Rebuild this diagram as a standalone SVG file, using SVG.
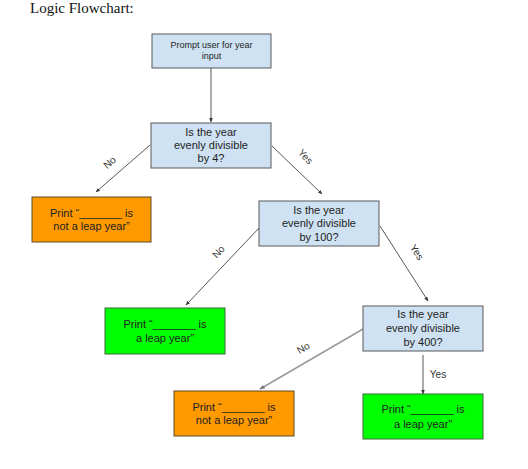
<svg xmlns="http://www.w3.org/2000/svg" width="528" height="469" viewBox="0 0 528 469">
<style>
.t{font-family:"Liberation Sans",Arial,sans-serif;font-size:11px;fill:#222;text-anchor:middle}
.s{font-size:9px}
.lab{font-family:"Liberation Sans",Arial,sans-serif;font-size:10px;fill:#333;text-anchor:middle}
.q{fill:#cfe2f3;stroke:#595959;stroke-width:1}
.o{fill:#ff9900;stroke:#5a4a2a;stroke-width:1}
.g{fill:#00ff00;stroke:#3a6a3a;stroke-width:1}
.c{stroke:#444;stroke-width:0.9;fill:none;marker-end:url(#a)}
.c2{stroke:#999;stroke-width:1.5;fill:none;marker-end:url(#a2)}
</style>
<defs>
<marker id="a" viewBox="0 0 10 10" refX="9" refY="5" markerWidth="5" markerHeight="5" orient="auto" markerUnits="strokeWidth"><path d="M0,1 L10,5 L0,9 z" fill="#333"/></marker>
<marker id="a2" viewBox="0 0 10 10" refX="9" refY="5" markerWidth="3.5" markerHeight="3.5" orient="auto" markerUnits="strokeWidth"><path d="M0,1 L10,5 L0,9 z" fill="#777"/></marker>
</defs>
<rect width="528" height="469" fill="#fff"/>
<text x="30" y="13" font-family="Liberation Serif,Times New Roman,serif" font-size="15" fill="#111">Logic Flowchart:</text>
<g id="connectors">
<line class="c" x1="211" y1="68" x2="211" y2="122"/>
<line class="c" x1="150" y1="145" x2="96" y2="192"/>
<line class="c" x1="272" y1="146" x2="322" y2="194"/>
<line class="c" x1="260" y1="227" x2="186" y2="305"/>
<line class="c" x1="380" y1="226" x2="428" y2="301"/>
<line class="c2" x1="363" y1="329" x2="260" y2="389"/>
<line class="c" x1="423" y1="355" x2="423" y2="394"/>
<text class="lab" transform="translate(112,165) rotate(-42)">No</text>
<text class="lab" transform="translate(303,159) rotate(47)">Yes</text>
<text class="lab" transform="translate(221,254) rotate(-47)">No</text>
<text class="lab" transform="translate(414,254) rotate(57)">Yes</text>
<text class="lab" transform="translate(305,351) rotate(-30)">No</text>
<text class="lab" x="438" y="378">Yes</text>
</g>
<g id="prompt">
<rect class="q" x="152" y="34" width="119" height="34"/>
<text class="t s" x="211.5" y="48">Prompt user for year</text>
<text class="t s" x="211.5" y="59">input</text>
</g>
<g id="div4">
<rect class="q" x="151" y="123" width="120" height="45"/>
<text class="t" x="211" y="136">Is the year</text>
<text class="t" x="211" y="149">evenly divisible</text>
<text class="t" x="211" y="162">by 4?</text>
</g>
<g id="notleap1">
<rect class="o" x="32" y="197" width="119" height="45"/>
<text class="t" x="91.5" y="217">Print “_______ is</text>
<text class="t" x="91.5" y="230">not a leap year”</text>
</g>
<g id="div100">
<rect class="q" x="259" y="201" width="120" height="45"/>
<text class="t" x="319" y="214">Is the year</text>
<text class="t" x="319" y="227">evenly divisible</text>
<text class="t" x="319" y="241">by 100?</text>
</g>
<g id="leap1">
<rect class="g" x="105" y="308" width="120" height="46"/>
<text class="t" x="165" y="328">Print “_______ is</text>
<text class="t" x="165" y="342">a leap year”</text>
</g>
<g id="div400">
<rect class="q" x="363" y="306" width="120" height="45"/>
<text class="t" x="423" y="318">Is the year</text>
<text class="t" x="423" y="332">evenly divisible</text>
<text class="t" x="423" y="346">by 400?</text>
</g>
<g id="notleap2">
<rect class="o" x="174" y="391" width="120" height="45"/>
<text class="t" x="234" y="411">Print “_______ is</text>
<text class="t" x="234" y="424">not a leap year”</text>
</g>
<g id="leap2">
<rect class="g" x="363" y="394" width="120" height="45"/>
<text class="t" x="423" y="413">Print “_______ is</text>
<text class="t" x="423" y="428">a leap year”</text>
</g>
</svg>
